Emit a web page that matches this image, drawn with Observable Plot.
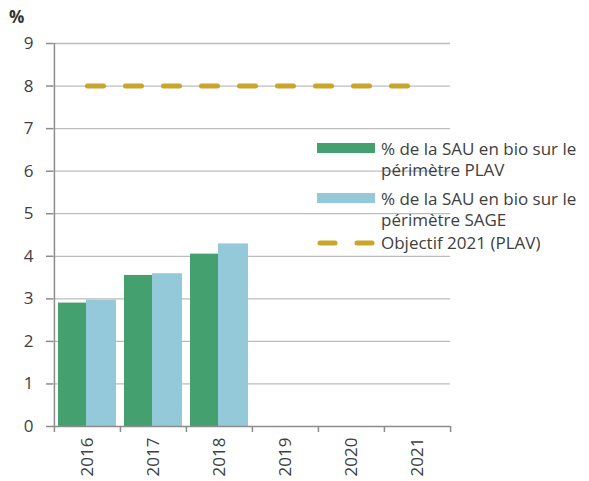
<!DOCTYPE html>
<html>
<head>
<meta charset="utf-8">
<script src="https://cdn.jsdelivr.net/npm/d3@7"></script>
<script src="https://cdn.jsdelivr.net/npm/@observablehq/plot@0.6"></script>
<style>
  body { margin: 0; background: #fff; }
  #wrap { position: relative; width: 589px; height: 481px; font-family: "Open Sans", sans-serif; color: #404040; }
  #unit { position: absolute; left: 9px; top: 5px; font-size: 17px; font-weight: bold; color: #333; }
  .leg { position: absolute; left: 317px; display: flex; align-items: flex-start; }
  .sw { width: 58px; height: 10px; margin-right: 6px; flex: none; }
  .lt { font-size: 17px; line-height: 21px; color: #404040; white-space: nowrap; }
</style>
</head>
<body>
<div id="wrap">
  <div id="chart"></div>
  <div id="unit">%</div>
  <div id="legend"></div>
</div>
<script>
const years = ["2016", "2017", "2018", "2019", "2020", "2021"];
const plavValues = [2.90, 3.55, 4.05, null, null, null];
const sageValues = [2.97, 3.59, 4.29, null, null, null];
const objectiveValue = 8;
const yTicks = [0, 1, 2, 3, 4, 5, 6, 7, 8, 9];
const seriesLabels = [
  "% de la SAU en bio sur le<br>périmètre PLAV",
  "% de la SAU en bio sur le<br>périmètre SAGE",
  "Objectif 2021 (PLAV)"
];
const colors = ["#44a06f", "#93c9d8", "#c9a52a"];

const W = 589, H = 481, ML = 53, MR = 139, MT = 43, MB = 55;
const bw = (W - ML - MR) / years.length;

const plav = years.map((y, i) => ({year: y, value: plavValues[i]})).filter(d => d.value != null);
const sage = years.map((y, i) => ({year: y, value: sageValues[i]})).filter(d => d.value != null);
const objective = years.map(y => ({year: y, value: objectiveValue}));

const chart = Plot.plot({
  width: W, height: H,
  marginLeft: ML, marginRight: MR, marginTop: MT, marginBottom: MB,
  style: {fontFamily: "Open Sans, sans-serif", fontSize: "17px", color: "#404040", background: "#fff"},
  x: {type: "band", domain: years, padding: 0, axis: null, label: null},
  y: {domain: [0, 9], axis: null, label: null},
  marks: [
    Plot.ruleY(yTicks.filter(t => t > 0), {stroke: "#bdbdbd", strokeWidth: 1.3}),
    Plot.barY(plav, {x: "year", y: "value", fill: colors[0], insetLeft: 4, insetRight: 34}),
    Plot.barY(sage, {x: "year", y: "value", fill: colors[1], insetLeft: 32, insetRight: 4}),
    Plot.lineY(objective, {x: "year", y: "value", stroke: colors[2], strokeWidth: 5,
      strokeDasharray: "16,22", strokeLinecap: "round"}),
    Plot.ruleY([0], {stroke: "#8c8c8c", strokeWidth: 1.5}),
    Plot.ruleX([years[0]], {dx: -bw / 2, stroke: "#8c8c8c", strokeWidth: 1.5}),
    Plot.axisY({ticks: yTicks, tickSize: 7, tickPadding: 13, stroke: "#8c8c8c", strokeWidth: 1.5,
      fontSize: 17, fill: "#404040", label: null}),
    Plot.axisX({ticks: years, tickSize: 6, tickFormat: () => "", dx: -bw / 2, stroke: "#8c8c8c", strokeWidth: 1.5, label: null}),
    Plot.axisX({ticks: [years[years.length - 1]], tickSize: 6, tickFormat: () => "", dx: bw / 2, stroke: "#8c8c8c", strokeWidth: 1.5, label: null}),
    Plot.axisX({ticks: years, tickSize: 0, tickPadding: 11, tickRotate: -90, fontSize: 17, fill: "#404040", label: null})
  ]
});
document.getElementById("chart").appendChild(chart);

const legend = document.getElementById("legend");
const legTops = [138, 188, 232];
seriesLabels.forEach((lab, i) => {
  const row = document.createElement("div");
  row.className = "leg";
  row.style.top = legTops[i] + "px";
  let sw;
  if (i < 2) {
    sw = `<div class="sw" style="background:${colors[i]};margin-top:5px"></div>`;
  } else {
    sw = `<svg width="58" height="10" style="margin-right:6px;margin-top:6px;flex:none"><line x1="3" y1="5" x2="56" y2="5" stroke="${colors[2]}" stroke-width="5" stroke-linecap="round" stroke-dasharray="15,22"/></svg>`;
  }
  row.innerHTML = sw + `<div class="lt">${lab}</div>`;
  legend.appendChild(row);
});
</script>
</body>
</html>
